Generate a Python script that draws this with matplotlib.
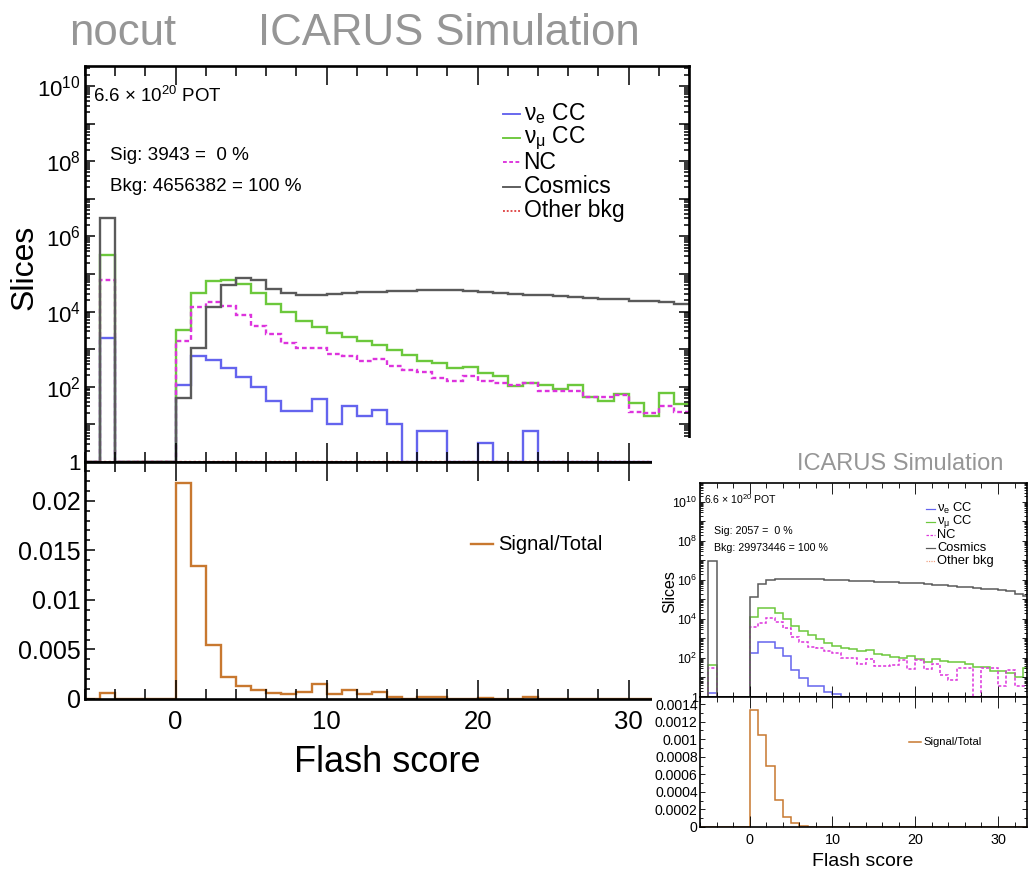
import numpy as np
import matplotlib.pyplot as plt
from matplotlib.lines import Line2D
from matplotlib.patches import Rectangle
from matplotlib.ticker import LogLocator, MultipleLocator, FuncFormatter, NullFormatter

plt.rcParams['font.family'] = ['Liberation Sans', 'DejaVu Sans']
plt.rcParams['mathtext.fontset'] = 'custom'
plt.rcParams['mathtext.rm'] = 'Liberation Sans'
plt.rcParams['mathtext.it'] = 'Liberation Sans:italic'
plt.rcParams['mathtext.default'] = 'regular'

W, H = 1029, 869

# flash score bins of width 1 from -6 to 34 (bin -5 is the "no flash" dump)
bin_edges = np.arange(-6, 35)

# ---- big plot ("nocut"), bins -6 .. 33
nue_big = [0, 2000, 0, 0, 0, 0,
           112, 640, 525, 315, 180, 98, 43, 23, 23, 48,
           10, 31, 17, 24, 10, 0, 6.5, 6.5, 0, 0,
           3.3, 0, 0, 6.5, 0, 0, 0, 0, 0, 0,
           0, 0, 0, 0]
numu_big = [0, 3.1e5, 0, 0, 0, 0,
            3300, 3.2e4, 6.4e4, 6.9e4, 5.5e4, 3.2e4, 1.6e4, 9600, 5500, 3900,
            2700, 2100, 1700, 1300, 970, 710, 495, 427, 315, 330,
            230, 196, 106, 125, 113, 86, 113, 55, 43, 64,
            37, 17, 68, 35]
nc_big = [0, 7.1e4, 0, 0, 0, 0,
          1700, 1.3e4, 1.8e4, 1.4e4, 8000, 4200, 2600, 1500, 1100, 1070,
          740, 670, 490, 550, 363, 285, 240, 170, 145, 190,
          145, 130, 113, 125, 75, 78, 75, 55, 55, 61,
          21, 20, 31, 21]
cosmic_big = [0, 3.0e6, 0, 0, 0, 0,
              50, 1100, 1.3e4, 5.2e4, 7.9e4, 7.1e4, 4.1e4, 3.2e4, 2.7e4, 2.7e4,
              2.9e4, 3.1e4, 3.3e4, 3.4e4, 3.5e4, 3.5e4, 3.7e4, 3.8e4, 3.7e4, 3.5e4,
              3.3e4, 3.2e4, 3.0e4, 2.8e4, 2.7e4, 2.6e4, 2.4e4, 2.3e4, 2.2e4, 2.1e4,
              1.96e4, 1.9e4, 1.8e4, 1.6e4]
other_big = np.zeros(40)
ratio_big = [0, 0.00058, 0, 0, 0, 0,
             0.0218, 0.01345, 0.00545, 0.00225, 0.00131, 0.00091, 0.00064, 0.0005, 0.00067, 0.0015,
             0.00047, 0.0009, 0.00047, 0.00067, 0.00017, 0, 0.00017, 0.00017, 0, 0,
             0.0001, 0, 0, 0.00023, 0, 0, 0, 0, 0, 0,
             0, 0, 0, 0]

# ---- small plot, bins -6 .. 33
nue_sm = [0, 1.6, 0, 0, 0, 0,
          190, 690, 690, 315, 120, 25, 9.3, 3.5, 3.5, 1.9,
          1.4, 0, 0, 0, 0, 0, 0, 0, 0, 0,
          0, 0, 0, 0, 0, 0, 0, 0, 0, 0,
          0, 0, 0, 0]
numu_sm = [0, 45, 0, 0, 0, 0,
           1.2e4, 3.7e4, 3.7e4, 2.1e4, 9600, 4500, 2400, 1500, 950, 570,
           435, 315, 295, 215, 260, 156, 145, 110, 98, 129,
           90, 66, 90, 71, 66, 61, 48, 34, 34, 22,
           22, 18, 11, 30]
nc_sm = [0, 30, 0, 0, 0, 0,
         3700, 6000, 1.07e4, 6700, 3300, 1250, 640, 355, 315, 215,
         175, 98, 98, 50, 87, 40, 40, 45, 80, 27,
         80, 28, 50, 14, 7.6, 30, 30, 0, 30, 30,
         3.5, 25, 3.5, 3.5]
cosmic_sm = [0, 9e6, 0, 0, 0, 0,
             1.4e5, 6e5, 9.7e5, 1.09e6, 1.13e6, 1.18e6, 1.18e6, 1.13e6, 1.09e6, 1.05e6,
             1.0e6, 9.7e5, 9.3e5, 8.9e5, 8.6e5, 8.3e5, 7.9e5, 7.6e5, 7.4e5, 6.8e5,
             6.6e5, 6.0e5, 5.8e5, 5.4e5, 5.0e5, 4.6e5, 4.3e5, 4.0e5, 3.6e5, 3.4e5,
             3.0e5, 2.6e5, 2.0e5, 1.5e5]
other_sm = np.zeros(40)
ratio_sm = [0, 0, 0, 0, 0, 0,
            0.00133, 0.00105, 0.00069, 0.00031, 0.00011, 0.00004, 0.000015, 0, 0, 0,
            0, 0, 0, 0, 0, 0, 0, 0, 0, 0,
            0, 0, 0, 0, 0, 0, 0, 0, 0, 0,
            0, 0, 0, 0]

labels = [r'$\nu_{e}$ CC', r'$\nu_{\mu}$ CC', 'NC', 'Cosmics', 'Other bkg']
colors = ['#6464ee', '#6cc83c', '#dd33dd', '#5a5a5a']
styles = ['-', '-', (0, (2, 1.3)), '-', (0, (1, 1))]
ratio_color = '#c8782f'
grey_title = '#969696'


def px_box(x0, y0, x1, y1):
    return [x0 / W, 1 - y1 / H, (x1 - x0) / W, (y1 - y0) / H]


def log_label(v, pos):
    e = int(round(np.log10(v)))
    if e == 0:
        return '1'
    if e % 2:
        return ''
    return r'$10^{%d}$' % e


def draw_plot(fig, top_box, bot_box, series, ratio, ytop, rtop, rstep, rminor, xmax,
              sig_txt, bkg_txt, other_color, s, lw, z):
    ax = fig.add_axes(px_box(*top_box), zorder=z)
    rx = fig.add_axes(px_box(*bot_box), zorder=z, sharex=ax)

    cols = colors + [other_color]
    for vals, c, ls in zip(series, cols, styles):
        ax.stairs(np.clip(vals, 1, None), bin_edges, baseline=None, color=c, ls=ls, lw=lw)
    ax.set_yscale('log')
    ax.set_ylim(1, ytop)
    ax.set_xlim(-6, xmax)

    rx.stairs(ratio, bin_edges, baseline=None, color=ratio_color, lw=lw)
    rx.set_ylim(0, rtop)

    ax.xaxis.set_major_locator(MultipleLocator(10))
    ax.xaxis.set_minor_locator(MultipleLocator(2))
    ax.yaxis.set_major_locator(LogLocator(base=10, numticks=30))
    ax.yaxis.set_minor_locator(LogLocator(base=10, subs=np.arange(2, 10), numticks=30))
    ax.yaxis.set_major_formatter(FuncFormatter(log_label))
    ax.yaxis.set_minor_formatter(NullFormatter())
    rx.yaxis.set_major_locator(MultipleLocator(rstep))
    rx.yaxis.set_minor_locator(MultipleLocator(rminor))
    rx.yaxis.set_major_formatter(FuncFormatter(lambda v, p: '%g' % v))

    for a in (ax, rx):
        a.tick_params(which='both', direction='in', top=True, right=True, color='black')
        a.tick_params(axis='x', which='major', length=14 * s, width=1.1 * s)
        a.tick_params(axis='x', which='minor', length=7 * s, width=1.1 * s)
        a.tick_params(axis='y', which='major', length=7 * s, width=1.1 * s, pad=3 * s)
        a.tick_params(axis='y', which='minor', length=3.5 * s, width=1.1 * s)
        for sp in a.spines.values():
            sp.set_linewidth(1.6 * s + 0.3)
    ax.tick_params(axis='x', labelbottom=False)
    ax.tick_params(axis='y', labelsize=16 * s)
    rx.tick_params(axis='y', labelsize=18 * s)
    rx.tick_params(axis='x', labelsize=18.5 * s, pad=8 * s)

    ax.text(0.013, 0.925, r'6.6 × 10$^{20}$ POT', fontsize=13.5 * s, va='center', transform=ax.transAxes)
    ax.text(0.042, 0.775, sig_txt, fontsize=13.6 * s, va='center', transform=ax.transAxes)
    ax.text(0.042, 0.695, bkg_txt, fontsize=13.6 * s, va='center', transform=ax.transAxes)

    for i, (lab, c, ls) in enumerate(zip(labels, cols, styles)):
        y = 1 - (0.12 + 0.0615 * i)
        ax.add_line(Line2D([0.692, 0.72], [y, y], transform=ax.transAxes, color=c, ls=ls, lw=lw * 0.8))
        ax.text(0.726, y, lab, fontsize=16.5 * s, va='center', transform=ax.transAxes)

    rx.add_line(Line2D([0.639, 0.675], [0.654, 0.654], transform=rx.transAxes, color=ratio_color, lw=lw))
    rx.text(0.684, 0.654, 'Signal/Total', fontsize=14.5 * s, va='center', transform=rx.transAxes)
    return ax, rx


fig = plt.figure(figsize=(W / 100, H / 100), dpi=100)

# big plot
draw_plot(fig, (85, 66, 689, 462), (85, 462, 689, 699),
          [nue_big, numu_big, nc_big, cosmic_big, other_big], ratio_big,
          10 ** 10.53, 0.0239, 0.005, 0.001, 34,
          'Sig: 3943 =  0 %', 'Bkg: 4656382 = 100 %', '#e04848', 1.0, 1.7, 0)
fig.text(25 / W, 1 - 267 / H, 'Slices', fontsize=23, rotation=90, ha='center', va='center')
fig.text(387 / W, 1 - 772 / H, 'Flash score', fontsize=26, ha='center', va='baseline')
fig.text(123 / W, 1 - 45 / H, 'nocut', fontsize=31.5, color=grey_title, ha='center', va='baseline')
fig.text(449 / W, 1 - 45 / H, 'ICARUS Simulation', fontsize=31.5, color=grey_title, ha='center', va='baseline')

# white canvas of the small plot pasted on top of the big one
fig.add_artist(Rectangle((652 / W, 0), 1 - 652 / W, 1 - 438 / H, transform=fig.transFigure,
                         facecolor='white', edgecolor='none', zorder=2))

# small plot
draw_plot(fig, (700, 483, 1027, 697), (700, 697, 1027, 827),
          [nue_sm, numu_sm, nc_sm, cosmic_sm, other_sm], ratio_sm,
          10 ** 10.97, 0.00148, 0.0002, 0.0001, 33.5,
          'Sig: 2057 =  0 %', 'Bkg: 29973446 = 100 %', '#f0a080', 0.56, 1.1, 3)
fig.text(670 / W, 1 - 592 / H, 'Slices', fontsize=11.5, rotation=90, ha='center', va='center', zorder=4)
fig.text(863 / W, 1 - 866 / H, 'Flash score', fontsize=14, ha='center', va='baseline', zorder=4)
fig.text(900 / W, 1 - 470 / H, 'ICARUS Simulation', fontsize=17, color=grey_title,
         ha='center', va='baseline', zorder=4)

fig.savefig('out.png', dpi=100)
